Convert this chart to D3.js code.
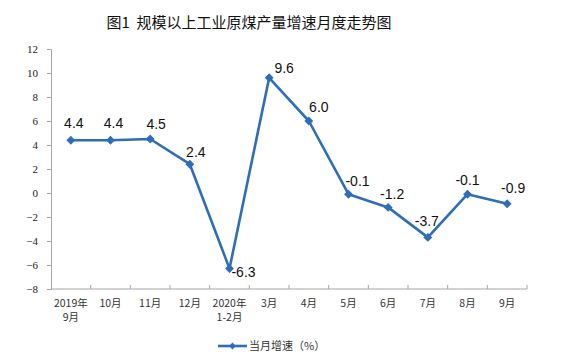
<!DOCTYPE html>
<html><head><meta charset="utf-8">
<script src="https://cdn.jsdelivr.net/npm/d3@7"></script>
<style>body{margin:0;background:#fff;}svg{display:block;}</style>
</head><body>
<svg id="c" width="572" height="361"></svg>
<script>
const categories = ["2019年\n9月","10月","11月","12月","2020年\n1-2月","3月","4月","5月","6月","7月","8月","9月"];
const values = [4.4, 4.4, 4.5, 2.4, -6.3, 9.6, 6.0, -0.1, -1.2, -3.7, -0.1, -0.9];
const yTicks = [-8,-6,-4,-2,0,2,4,6,8,10,12];
const title = "图1  规模以上工业原煤产量增速月度走势图";
const seriesName = "当月增速（%）";

const svg = d3.select("#c");
const m = {l:51, r:45, t:49, b:72};
const W = 572, H = 361;
const x = d3.scaleBand().domain(categories).range([m.l, W - m.r]);
const y = d3.scaleLinear().domain([-8, 12]).range([H - m.b, m.t]);
const axisColor = "#a6a6a6";
const blue = "#2e6db8";

svg.append("text").attr("x", 249).attr("y", 28).attr("text-anchor","middle")
  .attr("font-family","'Noto Sans CJK SC', sans-serif").attr("font-size",15).attr("fill","#111")
  .attr("xml:space","preserve").style("white-space","pre")
  .text(title);

// y axis
const ya = svg.append("g").attr("transform",`translate(${m.l},0)`)
  .call(d3.axisLeft(y).tickValues(yTicks).tickSize(4).tickPadding(9).tickFormat(d3.format("d")));
ya.select(".domain").attr("stroke",axisColor);
ya.selectAll(".tick line").attr("stroke",axisColor);
ya.selectAll("text").attr("font-family","'Liberation Serif', 'DejaVu Serif', serif").attr("font-size",11).attr("fill","#222");

// x axis
const xa = svg.append("g").attr("transform",`translate(0,${H - m.b})`);
xa.append("line").attr("x1",m.l).attr("x2",W - m.r).attr("stroke",axisColor);
const edges = categories.map(c => x(c)).concat([W - m.r]);
xa.selectAll("line.tk").data(edges.slice(1)).enter().append("line").attr("class","tk")
  .attr("x1",d=>d).attr("x2",d=>d).attr("y1",0).attr("y2",-4).attr("stroke",axisColor);
xa.selectAll("text.lbl").data(categories).enter().append("text").attr("class","lbl")
  .attr("text-anchor","middle")
  .attr("font-family","'Noto Sans CJK SC', sans-serif").attr("font-size",10.5).attr("fill","#333")
  .attr("transform", d => `translate(${x(d)+x.bandwidth()/2},0)`)
  .each(function(d){
    const t = d3.select(this);
    d.split("\n").forEach((s,i)=> t.append("tspan").attr("x",0).attr("y",18 + i*14).text(s));
  });

// line
const cx = (d,i) => x(categories[i]) + x.bandwidth()/2;
const line = d3.line().x((d,i)=>cx(d,i)).y(d=>y(d));
svg.append("path").datum(values).attr("d",line).attr("fill","none")
  .attr("stroke",blue).attr("stroke-width",2.6).attr("stroke-linejoin","round");
const diamond = d3.symbol().type(d3.symbolDiamond2).size(50);
svg.selectAll("path.pt").data(values).enter().append("path").attr("class","pt")
  .attr("d",diamond).attr("fill",blue)
  .attr("transform",(d,i)=>`translate(${cx(d,i)},${y(d)})`);

// data label placement (layout only)
const labelOffsets = [[3,-12],[3,-12],[6,-10],[6,-7],[14,8],[15,-5],[10,-9],[9,-8],[4,-8],[-1,-11],[0,-9],[6,-11]];
svg.selectAll("text.dl").data(values).enter().append("text").attr("class","dl")
  .attr("text-anchor","middle")
  .attr("font-family","'Liberation Sans', Arial, sans-serif").attr("font-size",14).attr("fill","#111")
  .attr("x",(d,i)=>cx(d,i) + labelOffsets[i][0]).attr("y",(d,i)=>y(d) + labelOffsets[i][1])
  .text(d=>d.toFixed(1));

// legend
const lg = svg.append("g").attr("transform","translate(218,346)");
lg.append("line").attr("x1",0).attr("x2",29).attr("stroke",blue).attr("stroke-width",2.6);
lg.append("path").attr("d",d3.symbol().type(d3.symbolDiamond2).size(30)).attr("fill",blue).attr("transform","translate(14.5,0)");
lg.append("text").attr("x",31).attr("y",4).attr("font-family","'Noto Sans CJK SC', sans-serif")
  .attr("font-size",11).attr("fill","#333").text(seriesName);
</script>
</body></html>
